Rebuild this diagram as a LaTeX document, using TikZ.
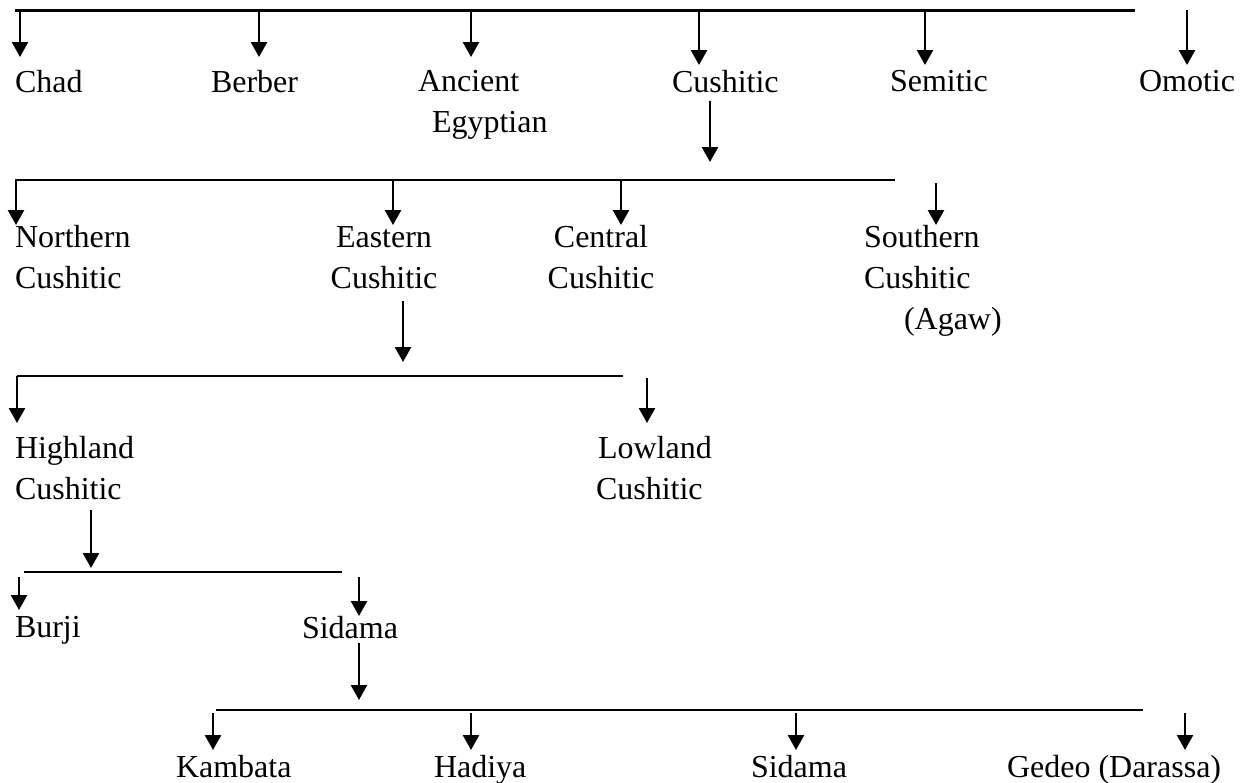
\documentclass[tikz,border=0pt]{standalone}
\usepackage{fontspec}
\setmainfont{Liberation Serif}
\usetikzlibrary{arrows.meta}
\tikzset{
  lang/.style={inner sep=0pt, outer sep=0pt, anchor=north west, align=left,
    font=\fontsize{16}{20.5}\selectfont},
  langc/.style={lang, anchor=north, align=center},
  arr/.style={line width=1.25pt, -{Triangle[width=8pt,length=7.5pt]}},
  bus/.style={line width=0.9pt},
}
\begin{document}
\begin{tikzpicture}[x=0.5pt, y=-0.5pt]
\useasboundingbox (0,0) rectangle (1242,782);

% Afro-Asiatic branches
\node[lang] (chad) at (15,70) {Chad};
\node[lang] (berber) at (211,70) {Berber};
\node[lang] (ancient) at (418,70) {Ancient\\\hspace*{7pt}Egyptian};
\node[lang] (cush1) at (672,70) {Cushitic};
\node[lang] (semitic) at (890,70) {Semitic};
\node[lang] (omotic) at (1139,70) {Omotic};

\coordinate (b1l) at (15,10);
\coordinate (b1r) at (1135,10);
\draw[line width=1.5pt] (b1l) -- (b1r);
\coordinate (t11) at (20,10);
\coordinate (t12) at (259,10);
\coordinate (t13) at (471,10);
\coordinate (t14) at (699,10);
\coordinate (t15) at (925,10);
\coordinate (t16) at (1187,10);
\draw[arr, shorten >=6.5pt] (t11) -- (t11 |- chad.north);
\draw[arr, shorten >=6.5pt] (t12) -- (t12 |- berber.north);
\draw[arr, shorten >=6.5pt] (t13) -- (t13 |- ancient.north);
\draw[arr, shorten >=2.5pt] (t14) -- (t14 |- cush1.north);
\draw[arr, shorten >=2.5pt] (t15) -- (t15 |- semitic.north);
\draw[arr, shorten >=2.5pt] (t16) -- (t16 |- omotic.north);

% Cushitic
\node[lang] (north) at (15,225) {Northern\\Cushitic};
\node[langc] (east) at (384,225) {\vphantom{h}Eastern\\Cushitic};
\node[langc] (central) at (601,225) {Central\\Cushitic};
\node[lang] (south) at (864,225) {Southern\\Cushitic\\\hspace*{20pt}(Agaw)};

\coordinate (d1) at (710,162);
\draw[arr, shorten <=4pt] (d1 |- cush1.south) -- (d1);
\coordinate (b2l) at (15,180);
\coordinate (b2r) at (895,180);
\draw[bus] (b2l) -- (b2r);
\coordinate (t21) at (16,180);
\coordinate (t22) at (393,180);
\coordinate (t23) at (621,180);
\coordinate (t24) at (936,183);
\draw[arr] (t21) -- (t21 |- north.north);
\draw[arr] (t22) -- (t22 |- east.north);
\draw[arr] (t23) -- (t23 |- central.north);
\draw[arr] (t24) -- (t24 |- south.north);

% Eastern Cushitic
\node[lang] (high) at (15,436) {Highland\\Cushitic};
\node[lang] (low) at (596,436) {\hspace*{1pt}Lowland\\Cushitic};

\coordinate (d2) at (403,362);
\draw[arr, shorten <=6pt] (d2 |- east.south) -- (d2);
\coordinate (b3l) at (17,376);
\coordinate (b3r) at (623,376);
\draw[bus] (b3l) -- (b3r);
\coordinate (t31) at (17,376);
\coordinate (t32) at (647,378);
\draw[arr, shorten >=6.5pt] (t31) -- (t31 |- high.north);
\draw[arr, shorten >=6.5pt] (t32) -- (t32 |- low.north);

% Highland Cushitic
\node[lang] (burji) at (15,616) {Burji};
\node[lang] (sidama) at (302,616) {Sidama};

\coordinate (d3) at (91,568);
\draw[arr, shorten <=5pt] (d3 |- high.south) -- (d3);
\coordinate (b4l) at (24,572);
\coordinate (b4r) at (342,572);
\draw[bus] (b4l) -- (b4r);
\coordinate (t41) at (19,577);
\coordinate (t42) at (359,577);
\draw[arr, shorten >=3pt] (t41) -- (t41 |- burji.north);
\draw[arr] (t42) -- (t42 |- sidama.north);

% Sidama group
\node[lang] (kambata) at (176,755) {Kambata};
\node[lang] (hadiya) at (434,755) {Hadiya};
\node[lang] (sidama2) at (751,755) {Sidama};
\node[lang] (gedeo) at (1007,755) {Gedeo (Darassa)};

\coordinate (d4) at (359,700);
\draw[arr, shorten <=2pt] (d4 |- sidama.south) -- (d4);
\coordinate (b5l) at (216,710);
\coordinate (b5r) at (1143,710);
\draw[bus] (b5l) -- (b5r);
\coordinate (t51) at (213,713);
\coordinate (t52) at (471,713);
\coordinate (t53) at (796,713);
\coordinate (t54) at (1185,713);
\draw[arr, shorten >=2.5pt] (t51) -- (t51 |- kambata.north);
\draw[arr, shorten >=2.5pt] (t52) -- (t52 |- hadiya.north);
\draw[arr, shorten >=2.5pt] (t53) -- (t53 |- sidama2.north);
\draw[arr, shorten >=2.5pt] (t54) -- (t54 |- gedeo.north);
\end{tikzpicture}
\end{document}
